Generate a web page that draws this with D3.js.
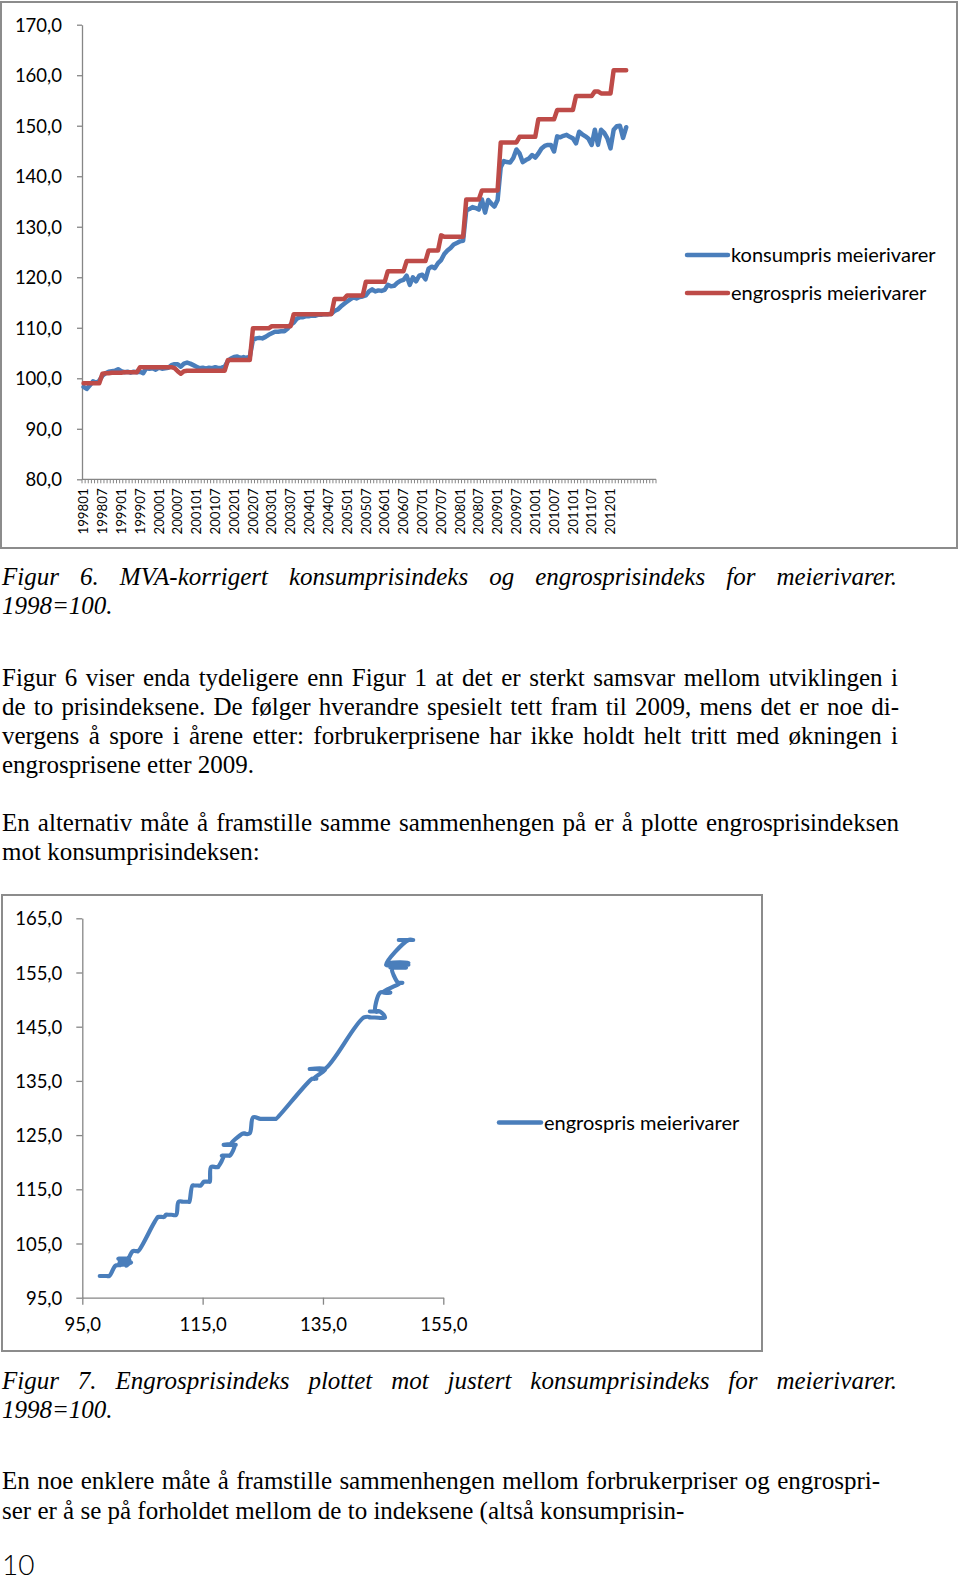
<!DOCTYPE html>
<html><head><meta charset="utf-8">
<script src="https://cdn.jsdelivr.net/npm/d3@7"></script>
<style>
html,body{margin:0;padding:0;background:#fff;}
svg{display:block;}
</style></head><body>
<svg id="page" width="960" height="1580"></svg>
<script>
// ---------- DATA ----------
const months = [
 "199801","199802","199803","199804","199805","199806","199807","199808","199809","199810","199811","199812",
 "199901","199902","199903","199904","199905","199906","199907","199908","199909","199910","199911","199912",
 "200001","200002","200003","200004","200005","200006","200007","200008","200009","200010","200011","200012",
 "200101","200102","200103","200104","200105","200106","200107","200108","200109","200110","200111","200112",
 "200201","200202","200203","200204","200205","200206","200207","200208","200209","200210","200211","200212",
 "200301","200302","200303","200304","200305","200306","200307","200308","200309","200310","200311","200312",
 "200401","200402","200403","200404","200405","200406","200407","200408","200409","200410","200411","200412",
 "200501","200502","200503","200504","200505","200506","200507","200508","200509","200510","200511","200512",
 "200601","200602","200603","200604","200605","200606","200607","200608","200609","200610","200611","200612",
 "200701","200702","200703","200704","200705","200706","200707","200708","200709","200710","200711","200712",
 "200801","200802","200803","200804","200805","200806","200807","200808","200809","200810","200811","200812",
 "200901","200902","200903","200904","200905","200906","200907","200908","200909","200910","200911","200912",
 "201001","201002","201003","201004","201005","201006","201007","201008","201009","201010","201011","201012",
 "201101","201102","201103","201104","201105","201106","201107","201108","201109","201110","201111","201112",
 "201201","201202","201203","201204","201205","201206"
];
// empty category slots at the end of the Excel category axis
const blankSlots = 9;

const konsumpris = [
 98.3,97.9,98.6,99.4,99.1,99.5,100.5,101.0,101.3,101.4,101.5,101.8,
 101.4,101.2,101.3,101.1,101.3,101.2,101.3,101.0,102.0,101.9,102.0,101.7,
 102.1,101.9,102.0,102.1,102.6,102.8,102.8,102.3,102.9,103.1,102.9,102.6,
 102.3,102.0,102.1,101.9,102.1,102.0,102.2,102.0,102.1,102.3,103.4,103.9,
 104.2,104.3,104.0,104.2,104.0,104.3,107.6,107.9,108.0,107.9,108.2,108.6,
 108.9,109.2,109.2,109.3,109.3,109.8,110.6,111.0,111.8,112.1,112.1,112.3,
 112.3,112.4,112.4,112.6,112.6,112.7,112.7,112.8,113.3,113.6,114.2,114.7,
 115.2,115.6,116.0,115.8,116.1,116.2,116.4,117.2,117.6,117.2,117.4,117.3,
 117.5,118.5,118.2,118.3,118.9,119.3,119.5,120.3,118.5,120.0,119.2,120.3,
 120.5,119.6,121.7,122.1,121.8,122.8,123.4,124.6,125.3,125.8,126.5,126.8,
 127.1,127.2,133.2,133.5,133.9,133.7,133.4,135.4,132.8,135.3,134.6,134.0,
 135.3,141.8,143.0,142.8,142.7,143.6,145.3,144.5,142.8,143.2,143.5,144.2,
 143.7,144.5,145.5,146.0,146.2,146.2,144.9,147.9,147.7,148.0,148.2,147.8,
 147.5,146.5,148.8,148.3,147.9,147.4,146.2,149.2,146.2,149.2,148.6,147.5,
 145.5,149.2,149.9,150.0,147.6,149.7
];
const engrospris = [
 99.0,99.0,99.0,99.0,99.0,99.0,100.9,101.0,101.0,101.1,101.1,101.1,
 101.1,101.2,101.2,101.2,101.2,101.2,102.2,102.2,102.2,102.2,102.2,102.2,
 102.2,102.2,102.2,102.2,102.2,102.0,101.4,100.9,101.4,101.5,101.5,101.5,
 101.5,101.5,101.5,101.5,101.5,101.5,101.5,101.5,101.5,101.5,103.6,103.6,
 103.6,103.6,103.6,103.6,103.6,103.6,109.9,109.9,109.9,109.9,109.9,109.9,
 110.3,110.3,110.3,110.3,110.3,110.3,110.3,112.7,112.7,112.7,112.7,112.7,
 112.7,112.7,112.7,112.7,112.7,112.7,112.7,112.7,115.7,115.7,115.7,115.7,
 116.4,116.4,116.4,116.4,116.4,116.4,119.1,119.1,119.1,119.1,119.1,119.1,
 119.1,121.2,121.2,121.2,121.2,121.2,121.2,123.2,123.2,123.2,123.2,123.2,
 123.2,123.2,125.3,125.3,125.3,125.3,128.3,128.0,128.0,128.0,128.0,128.0,
 128.0,128.0,135.4,135.4,135.4,135.4,135.4,137.2,137.2,137.2,137.2,137.2,
 137.2,146.7,146.7,146.7,146.7,146.7,146.7,147.8,147.8,147.8,147.8,147.8,
 147.8,151.3,151.3,151.3,151.3,151.3,151.3,153.1,153.1,153.1,153.1,153.1,
 153.1,155.9,155.9,155.9,155.9,155.9,155.9,156.8,156.8,156.4,156.4,156.4,
 156.4,161.0,161.0,161.0,161.0,161.0
];
const seriesNames = ["konsumpris meierivarer", "engrospris meierivarer"];
const yTicksTop = [80, 90, 100, 110, 120, 130, 140, 150, 160, 170];
const yTicksScatter = [95, 105, 115, 125, 135, 145, 155, 165];
const xTicksScatter = [95, 115, 135, 155];

const textLines = [
 {t:"Figur 6. MVA-korrigert konsumprisindeks og engrosprisindeks for meierivarer.", y:585, it:true, w:895},
 {t:"1998=100.", y:614, it:true},
 {t:"Figur 6 viser enda tydeligere enn Figur 1 at det er sterkt samsvar mellom utviklingen i", y:686, w:896},
 {t:"de to prisindeksene. De følger hverandre spesielt tett fram til 2009, mens det er noe di-", y:715, w:897},
 {t:"vergens å spore i årene etter: forbrukerprisene har ikke holdt helt tritt med økningen i", y:744, w:896},
 {t:"engrosprisene etter 2009.", y:773},
 {t:"En alternativ måte å framstille samme sammenhengen på er å plotte engrosprisindeksen", y:831, w:897},
 {t:"mot konsumprisindeksen:", y:860},
 {t:"Figur 7. Engrosprisindeks plottet mot justert konsumprisindeks for meierivarer.", y:1389, it:true, w:895},
 {t:"1998=100.", y:1418, it:true},
 {t:"En noe enklere måte å framstille sammenhengen mellom forbrukerpriser og engrospri-", y:1489, w:878},
 {t:"ser er å se på forholdet mellom de to indeksene (altså konsumprisin-", y:1519}
];
const pageNumber = "10";

// ---------- STYLE ----------
const BLUE = "#4a7ebb", RED = "#be4b48", AX = "#868686", FRAME = "#8c8c8c";
const SANS = "Lato, 'Open Sans', sans-serif";
const SERIF = "'Liberation Serif', 'Times New Roman', serif";
const fmt = d => d.toFixed(1).replace(".", ",");

const svg = d3.select("#page");
svg.append("rect").attr("width",960).attr("height",1580).attr("fill","#fff");

// frames
svg.append("rect").attr("x",1).attr("y",2).attr("width",956).attr("height",546)
  .attr("fill","none").attr("stroke",FRAME).attr("stroke-width",2);
svg.append("rect").attr("x",2).attr("y",895).attr("width",760).attr("height",456)
  .attr("fill","none").attr("stroke",FRAME).attr("stroke-width",2);

function styleAxis(g, size){
  g.select(".domain").attr("stroke",AX).attr("stroke-width",1.3);
  g.selectAll(".tick line").attr("stroke",AX).attr("stroke-width",1.3);
  g.selectAll(".tick text").attr("font-family",SANS).attr("font-size",size).attr("fill","#000");
}

// ---------- TOP CHART ----------
const nSlots = months.length + blankSlots;
const xTop = d3.scaleBand().domain(d3.range(nSlots)).range([82, 656]);
const yTop = d3.scaleLinear().domain([80,170]).range([479.3, 24.7]);
const gT = svg.append("g");

const yAxT = gT.append("g").attr("transform","translate(82,0)")
  .call(d3.axisLeft(yTop).tickValues(yTicksTop).tickFormat(fmt).tickSize(5).tickSizeOuter(0).tickPadding(15));
styleAxis(yAxT, 18.5);
yAxT.selectAll(".tick text").attr("dy","0.36em");

// x axis line + category tick marks
gT.append("line").attr("x1",xTop.range()[0]).attr("x2",xTop.range()[1])
  .attr("y1",yTop(80)).attr("y2",yTop(80)).attr("stroke",AX).attr("stroke-width",1.3);
gT.append("g").selectAll("line").data(d3.range(nSlots+1)).join("line")
  .attr("x1",i => xTop.range()[0] + i*xTop.step()).attr("x2",i => xTop.range()[0] + i*xTop.step())
  .attr("y1",yTop(80)).attr("y2",yTop(80)+4).attr("stroke",AX).attr("stroke-width",1);

const labelled = months.map((m,i) => ({m,i})).filter(d => d.m.endsWith("01") || d.m.endsWith("07"));
gT.append("g").selectAll("text").data(labelled).join("text")
  .attr("transform", d => `translate(${xTop(d.i)+xTop.bandwidth()/2},${yTop(80)+9}) rotate(-90)`)
  .attr("text-anchor","end").attr("dy","0.35em")
  .attr("font-family",SANS).attr("font-size",13.3).attr("fill","#000")
  .text(d => d.m);

const lineTop = d3.line().x((d,i) => xTop(i)+xTop.bandwidth()/2).y(d => yTop(d));
[[konsumpris,BLUE],[engrospris,RED]].forEach(([arr,c]) => {
  gT.append("path").datum(arr).attr("d",lineTop).attr("fill","none")
    .attr("stroke",c).attr("stroke-width",4.5).attr("stroke-linejoin","round").attr("stroke-linecap","round");
});

// legend top
[[seriesNames[0],BLUE,255],[seriesNames[1],RED,293]].forEach(([n,c,y]) => {
  gT.append("line").attr("x1",687).attr("x2",728).attr("y1",y).attr("y2",y)
    .attr("stroke",c).attr("stroke-width",4.5).attr("stroke-linecap","round");
  gT.append("text").attr("x",731).attr("y",y).attr("dy","0.35em")
    .attr("font-family",SANS).attr("font-size",20).attr("fill","#000").text(n);
});

// ---------- SCATTER CHART ----------
const xS = d3.scaleLinear().domain([95,155]).range([82.3, 443.3]);
const yS = d3.scaleLinear().domain([95,165]).range([1297.7, 918.3]);
const gS = svg.append("g");
const yAxS = gS.append("g").attr("transform","translate(82.3,0)")
  .call(d3.axisLeft(yS).tickValues(yTicksScatter).tickFormat(fmt).tickSize(6).tickSizeOuter(0).tickPadding(14));
styleAxis(yAxS, 18.5);
yAxS.selectAll(".tick text").attr("dy","0.36em");
const xAxS = gS.append("g").attr("transform",`translate(0,${yS(95)})`)
  .call(d3.axisBottom(xS).tickValues(xTicksScatter).tickFormat(fmt).tickSize(7).tickSizeOuter(0).tickPadding(13));
styleAxis(xAxS, 18.5);

const pairs = konsumpris.map((k,i) => [k, engrospris[i]]);
gS.append("path").datum(pairs)
  .attr("d", d3.line().x(d => xS(d[0])).y(d => yS(d[1])).curve(d3.curveCatmullRom.alpha(0.5)))
  .attr("fill","none").attr("stroke",BLUE).attr("stroke-width",4.2)
  .attr("stroke-linejoin","round").attr("stroke-linecap","round");

gS.append("line").attr("x1",499).attr("x2",541).attr("y1",1122.5).attr("y2",1122.5)
  .attr("stroke",BLUE).attr("stroke-width",4.5).attr("stroke-linecap","round");
gS.append("text").attr("x",544).attr("y",1122.5).attr("dy","0.35em")
  .attr("font-family",SANS).attr("font-size",20).attr("fill","#000").text(seriesNames[1]);

// ---------- BODY TEXT ----------
const gX = svg.append("g");
textLines.forEach(L => {
  const t = gX.append("text").attr("x",2).attr("y",L.y)
    .attr("font-family",SERIF).attr("font-size",25).attr("fill","#000")
    .attr("font-style", L.it ? "italic" : "normal")
    .attr("xml:space","preserve").text(L.t);
  if (L.w) {
    const nat = t.node().getComputedTextLength();
    const sp = (L.t.match(/ /g) || []).length;
    if (sp) t.style("word-spacing", ((L.w - nat)/sp) + "px");
  }
});
gX.append("text").attr("x",2).attr("y",1575).attr("font-family",SANS).attr("font-size",28)
  .attr("font-weight",300).attr("fill","#000").text(pageNumber);
</script>
</body></html>
